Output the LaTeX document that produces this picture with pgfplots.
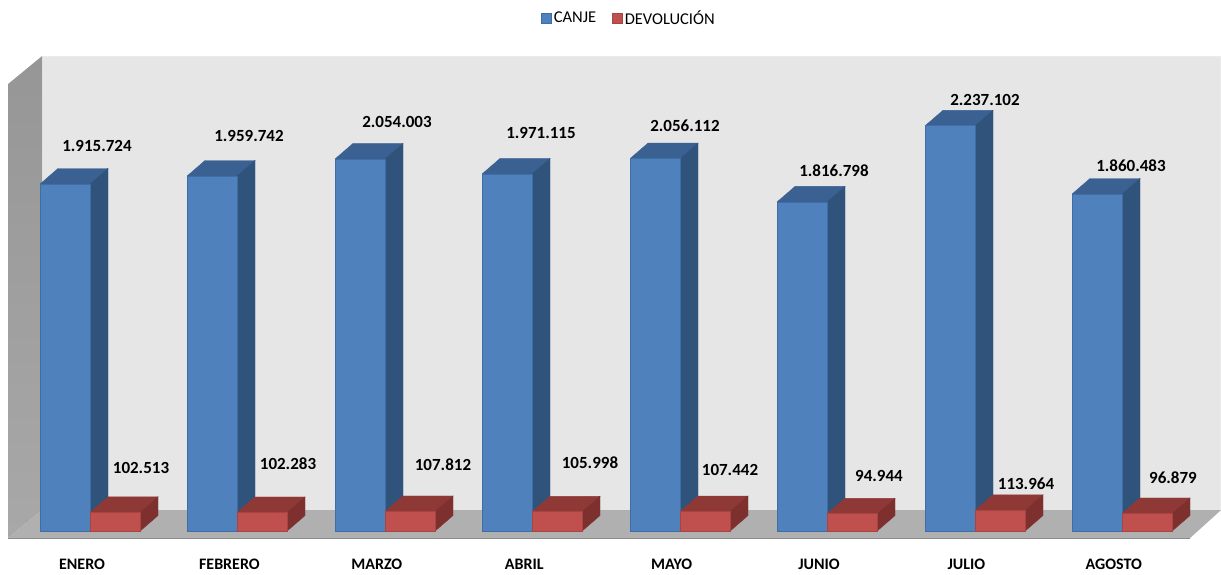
\documentclass[border=0pt]{standalone}
\usepackage{pgfplots}
\pgfplotsset{compat=1.18}
\usepackage{fontspec}
\setmainfont{Carlito}
\definecolor{wallback}{HTML}{E6E6E6}
\definecolor{wallleftA}{HTML}{969696}
\definecolor{wallleftB}{HTML}{A8A8A8}
\definecolor{floorgray}{HTML}{B0B0B0}
\definecolor{flooredge}{HTML}{8C8C8C}
\definecolor{bluefront}{HTML}{4F81BD}
\definecolor{blueedge}{HTML}{3F6EA6}
\definecolor{bluetop}{HTML}{3A6192}
\definecolor{blueside}{HTML}{30537C}
\definecolor{redfront}{HTML}{C0504D}
\definecolor{rededge}{HTML}{A84542}
\definecolor{redtop}{HTML}{8F3937}
\definecolor{redside}{HTML}{7D302E}

% side and top face of one bar: left edge of the bar, value, colours
\newcommand{\faces}[4]{%
  \pgfmathsetmacro{\xa}{#1+50}%
  \pgfmathsetmacro{\xb}{#1+18}%
  \pgfmathsetmacro{\xc}{#1+68}%
  \pgfmathsetmacro{\vb}{#2+86}%
  \edef\temp{\noexpand\addplot[fill=#3, draw=#3, forget plot] coordinates {(#1,#2) (\xb,\vb) (\xc,\vb) (\xa,#2) (#1,#2)};
    \noexpand\addplot[fill=#4, draw=#4, forget plot] coordinates {(\xa,0) (\xa,#2) (\xc,\vb) (\xc,86) (\xa,0)};}%
  \temp}
% text placed by its position in the picture
\newcommand{\lab}[3]{\node[font=\fontsize{17}{18}\selectfont\bfseries, text=black, inner sep=0pt] at (rel axis cs:#1/1221,1-#2/574) {#3};}

\pgfplotsset{
    squareswatch/.style={legend image code/.code={\draw[##1, line width=0.6pt] (0pt,-5pt) rectangle (10pt,5pt);}},
}

\pgfplotstableread{
x v
65 1915.724
212 1959.742
360 2054.003
507 1971.115
655 2056.112
802 1816.798
950 2237.102
1097 1860.483
}\canje
\pgfplotstableread{
x v
115 102.513
262 102.283
410 107.812
557 105.998
705 107.442
852 94.944
1000 113.964
1147 96.879
}\devol

\begin{document}
\begin{tikzpicture}
\begin{axis}[
    scale only axis,
    width=1221pt, height=574pt,
    xmin=0, xmax=1221,
    ymin=-237.4, ymax=2931.6,
    axis line style={draw=none},
    major tick length=0pt,
    ytick=\empty,
    xtick={82,229.4,376.8,524.2,671.6,819,966.4,1113.8},
    xticklabels={ENERO,FEBRERO,MARZO,ABRIL,MAYO,JUNIO,JULIO,AGOSTO},
    xticklabel style={font=\fontsize{16}{18}\selectfont\bfseries, yshift=19pt},
    legend style={at={(rel axis cs:629/1221,1-18/574)}, anchor=center, draw=none, fill=none,
        font=\fontsize{16.5}{18}\selectfont, legend columns=2,
        /tikz/every even column/.append style={column sep=14pt}},
]
    % walls and floor
    \addplot[fill=wallback, draw=white!92!black, forget plot] coordinates {(42,2622.4) (1220,2622.4) (1220,115.9) (42,115.9) (42,2622.4)};
    \addplot[top color=wallleftA, bottom color=wallleftB, draw=none, forget plot] coordinates {(8,2467.8) (42,2622.4) (42,115.9) (8,-38.6) (8,2467.8)};
    \addplot[fill=floorgray, draw=none, forget plot] coordinates {(8,-38.6) (42,115.9) (1221,115.9) (1190,-38.6) (8,-38.6)};
    \addplot[draw=flooredge, line width=1.5pt, forget plot] coordinates {(8,-40) (1190,-40)};

    % blue bars
    \faces{40}{1915.724}{bluetop}{blueside}
    \faces{187}{1959.742}{bluetop}{blueside}
    \faces{335}{2054.003}{bluetop}{blueside}
    \faces{482}{1971.115}{bluetop}{blueside}
    \faces{630}{2056.112}{bluetop}{blueside}
    \faces{777}{1816.798}{bluetop}{blueside}
    \faces{925}{2237.102}{bluetop}{blueside}
    \faces{1072}{1860.483}{bluetop}{blueside}
    \addplot[ybar, bar width=50pt, bar shift=0pt, squareswatch, fill=bluefront, draw=blueedge, line width=0.8pt] table[x=x, y=v] {\canje};
    \addlegendentry{CANJE}

    % red bars
    \faces{90}{102.513}{redtop}{redside}
    \faces{237}{102.283}{redtop}{redside}
    \faces{385}{107.812}{redtop}{redside}
    \faces{532}{105.998}{redtop}{redside}
    \faces{680}{107.442}{redtop}{redside}
    \faces{827}{94.944}{redtop}{redside}
    \faces{975}{113.964}{redtop}{redside}
    \faces{1122}{96.879}{redtop}{redside}
    \addplot[ybar, bar width=50pt, bar shift=0pt, squareswatch, fill=redfront, draw=rededge, line width=0.8pt] table[x=x, y=v] {\devol};
    \addlegendentry{DEVOLUCIÓN}

    % value labels
    \lab{97}{146}{1.915.724}
    \lab{249}{136}{1.959.742}
    \lab{397}{122}{2.054.003}
    \lab{541}{133}{1.971.115}
    \lab{685}{126}{2.056.112}
    \lab{834}{171}{1.816.798}
    \lab{985}{100}{2.237.102}
    \lab{1131}{166}{1.860.483}
    \lab{141}{468}{102.513}
    \lab{288}{464}{102.283}
    \lab{443}{465}{107.812}
    \lab{590}{463}{105.998}
    \lab{730}{470}{107.442}
    \lab{879}{476}{94.944}
    \lab{1026}{484}{113.964}
    \lab{1173}{478}{96.879}
\end{axis}
\end{tikzpicture}
\end{document}
